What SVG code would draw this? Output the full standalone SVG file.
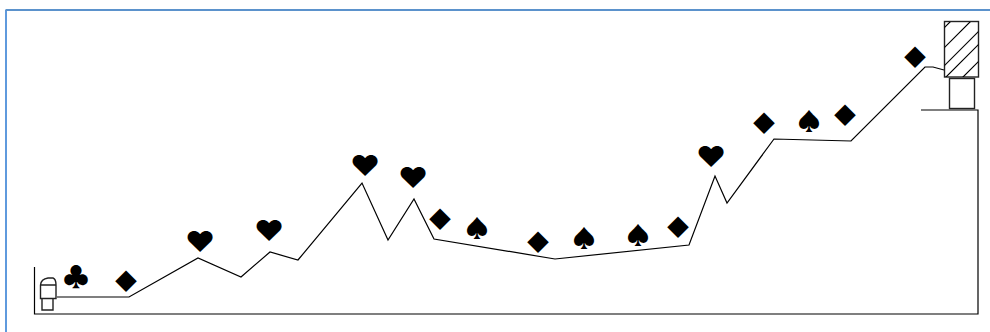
<svg xmlns="http://www.w3.org/2000/svg" width="990" height="332" viewBox="0 0 990 332">
<style>
.s{font-family:"Noto Sans CJK JP",sans-serif;font-size:24px;fill:#000;text-anchor:middle}
.c{font-family:"Noto Sans CJK JP",sans-serif;font-size:27px;fill:#000;text-anchor:middle}
.h{font-family:Inter,sans-serif;font-size:29px;fill:#000;text-anchor:middle}
.d{font-family:"Noto Sans CJK JP",sans-serif;font-size:22px;fill:#000;text-anchor:middle}
.l{fill:none;stroke:#000;stroke-width:1.200}
.g{fill:none;stroke:#222;stroke-width:1.400}
</style>
<defs>
<clipPath id="c"><rect x="944.500" y="22" width="34" height="55"/></clipPath>
</defs>
<rect width="990" height="332" fill="#fff"/>
<path d="M6 332V10" fill="none" stroke="#2a78d2" stroke-width="1.500"/>
<path d="M5.500 10H990" fill="none" stroke="#5b92cc" stroke-width="2"/>
<g id="connectors">
<path class="l" d="M34.500 267V314H978V110H921"/>
<path class="l" d="M57 297H129L198 258L241 277L270 252L298 260L362 183L388 240L414 199L434 239L555 259L689 245L715 176L727 203L774 139L851 141L925 67L933 67L944 70"/>
</g>
<g id="source"><path class="g" d="M40.500 298.500V285Q41 279 48 278H53Q56 279 56 285V298.500ZM40.500 285H56M42 298.500V310H53V298.500"/></g>
<g id="tower">
<rect x="944.500" y="21.500" width="34" height="55.500" class="g"/>
<g clip-path="url(#c)"><path class="l" d="M930 42L960 12M930 62L980 12M930 80L1000 10M940 83L1000 23M957 83L1000 40"/></g>
<rect x="949.500" y="78.500" width="25" height="30" class="g"/>
</g>
<g id="suits">
<text class="c" x="76" y="286.500">♣</text>
<text class="d" x="126" y="289">◆</text>
<text class="h" x="200" y="251.500">♥</text>
<text class="h" x="269" y="240.500">♥</text>
<text class="h" x="365" y="175.500">♥</text>
<text class="h" x="413" y="187.500">♥</text>
<text class="d" x="440" y="227">◆</text>
<text class="s" x="477" y="236.500">♠</text>
<text class="d" x="538" y="250">◆</text>
<text class="s" x="584" y="246.500">♠</text>
<text class="s" x="638" y="243.500">♠</text>
<text class="d" x="678" y="235">◆</text>
<text class="h" x="711" y="166.500">♥</text>
<text class="d" x="764" y="131">◆</text>
<text class="s" x="809" y="129.500">♠</text>
<text class="d" x="845" y="123">◆</text>
<text class="d" x="915" y="65">◆</text>
</g>
</svg>
